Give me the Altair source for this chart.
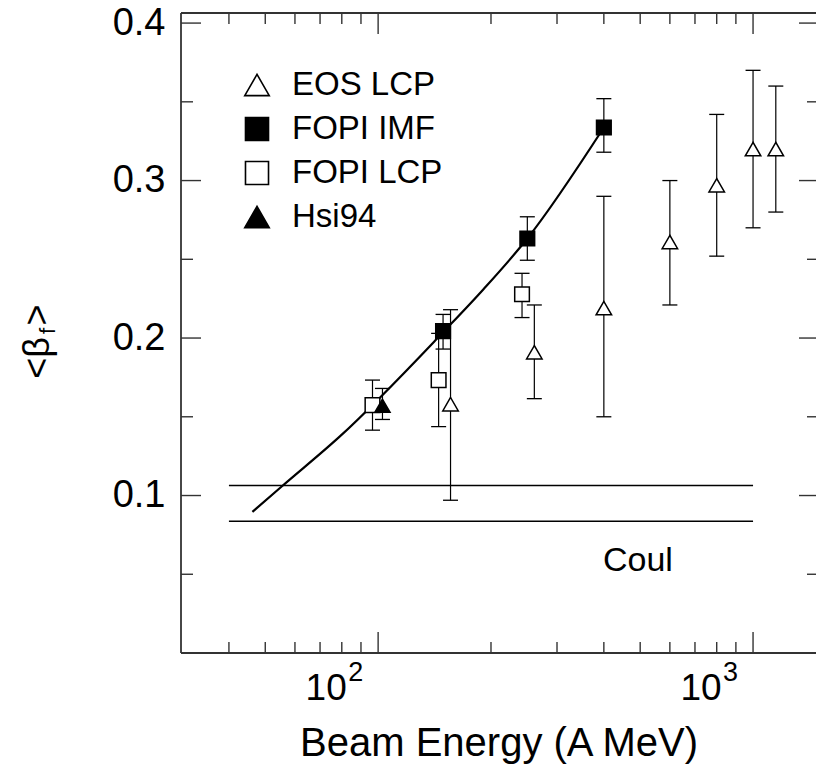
import altair as alt
import pandas as pd

# ---------------- data ----------------
# EOS LCP (open triangles)
EOS_E = [156, 261, 400, 600, 800, 1000, 1150]
EOS_B = [0.158, 0.191, 0.219, 0.261, 0.297, 0.320, 0.320]
EOS_LO = [0.097, 0.1615, 0.150, 0.221, 0.252, 0.270, 0.280]
EOS_HI = [0.218, 0.221, 0.290, 0.300, 0.342, 0.370, 0.360]
# FOPI IMF (filled squares)
IMF_E = [149, 250, 400]
IMF_B = [0.2044, 0.2632, 0.3337]
IMF_LO = [0.193, 0.2494, 0.318]
IMF_HI = [0.215, 0.277, 0.352]
# FOPI LCP (open squares)
LCP_E = [96.6, 145, 242]
LCP_B = [0.1574, 0.1733, 0.2278]
LCP_LO = [0.1415, 0.1437, 0.213]
LCP_HI = [0.1733, 0.203, 0.2411]
# Hsi94 (filled triangle)
HSI_E = [102.7]
HSI_B = [0.157]
HSI_LO = [0.1483]
HSI_HI = [0.168]
# fitted curve
FIT_E = [46.2, 55.4, 79.2, 150, 191, 250, 400]
FIT_B = [0.0896, 0.1059, 0.1377, 0.2044, 0.231, 0.2632, 0.3337]
# Coulomb band lines
COUL_E0 = [40, 40]
COUL_E1 = [1000, 1000]
COUL_B = [0.1064, 0.0837]
COUL_TEXT = ["Coul"]
COUL_TX = [493]
COUL_TY = [0.052]

LEG_NAMES = ["EOS LCP", "FOPI IMF", "FOPI LCP", "Hsi94"]
LEG_SHAPES = ["triangle-up", "square", "square", "triangle-up"]
LEG_FILLED = [False, True, False, True]

X_MAJOR = [100, 1000]
X_LABEL_BASE = ["10", "10"]
X_LABEL_EXP = ["2", "3"]
X_MINOR = [40, 50, 60, 70, 80, 90, 200, 300, 400, 500, 600, 700, 800, 900]
Y_MAJOR = [0.1, 0.2, 0.3, 0.4]
Y_MINOR = [0.05, 0.15, 0.25, 0.35]
XDOM = [29.8, 1472]
YDOM = [0, 0.4064]

# ---------------- layout / style ----------------
W, H = 635, 640
FONT = "Liberation Sans"
INK = "black"
FRAME = "#333333"

xs = alt.Scale(type="log", domain=XDOM, nice=False)
ys = alt.Scale(domain=YDOM, nice=False, zero=False)

x_axis = alt.Axis(
    values=X_MAJOR, labels=False,
    ticks=False, domain=False, grid=False,
    title="Beam Energy (A MeV)", titleFont=FONT, titleFontSize=40,
    titleFontWeight="normal", titleColor=INK, titleY=102,
    titleBaseline="alphabetic",
)
y_axis = alt.Axis(
    values=Y_MAJOR, format=".1f",
    ticks=False, domain=False, grid=False,
    labelFont=FONT, labelFontSize=38, labelColor=INK, labelPadding=16,
    title=None,
)


def X(field="E"):
    return alt.X(f"{field}:Q", scale=xs, axis=x_axis, title="Beam Energy (A MeV)")


def Y(field="b"):
    return alt.Y(f"{field}:Q", scale=ys, axis=y_axis, title=None)


def series_df(E, B, LO, HI):
    return pd.DataFrame({"E": E, "b": B, "lo": LO, "hi": HI})


eos = series_df(EOS_E, EOS_B, EOS_LO, EOS_HI)
imf = series_df(IMF_E, IMF_B, IMF_LO, IMF_HI)
lcp = series_df(LCP_E, LCP_B, LCP_LO, LCP_HI)
hsi = series_df(HSI_E, HSI_B, HSI_LO, HSI_HI)
allpts = pd.concat([eos, imf, lcp, hsi], ignore_index=True)

layers = []

# fitted curve (first layer, carries the axes)
fit = pd.DataFrame({"E": FIT_E, "b": FIT_B})
layers.append(
    alt.Chart(fit).mark_line(color=INK, strokeWidth=2.2, interpolate="monotone").encode(
        x=X("E"), y=Y("b")
    )
)

# Coulomb lines
coul = pd.DataFrame({"E0": COUL_E0, "E1": COUL_E1, "b": COUL_B})
layers.append(
    alt.Chart(coul).mark_rule(color=INK, strokeWidth=1.4).encode(
        x=X("E0"), x2="E1", y=Y("b")
    )
)

# error bars
layers.append(
    alt.Chart(allpts).mark_rule(color=INK, strokeWidth=1.2).encode(
        x=X("E"), y=Y("lo"), y2="hi"
    )
)
for f in ["lo", "hi"]:
    layers.append(
        alt.Chart(allpts).mark_tick(
            orient="horizontal", size=15, thickness=1.3, color=INK, opacity=1
        ).encode(x=X("E"), y=Y(f))
    )


def markers(df, shape, filled, size):
    return alt.Chart(df).mark_point(
        shape=shape, size=size, filled=True,
        fill=INK if filled else "white", stroke=INK, strokeWidth=1.5, opacity=1
    ).encode(x=X("E"), y=Y("b"))


layers.append(markers(eos, "triangle-up", False, 240))
layers.append(markers(lcp, "square", False, 215))
layers.append(markers(imf, "square", True, 215))
layers.append(markers(hsi, "triangle-up", True, 230))

# Coul label
ctext = pd.DataFrame({"E": COUL_TX, "b": COUL_TY, "t": COUL_TEXT})
layers.append(
    alt.Chart(ctext).mark_text(
        font=FONT, fontSize=34, color=INK, align="center", baseline="alphabetic"
    ).encode(x=X("E"), y=Y("b"), text="t:N")
)

# x tick labels 10^2, 10^3 (base + superscript), placed through the x scale
xl = pd.DataFrame({"E": X_MAJOR, "base": X_LABEL_BASE, "exp": X_LABEL_EXP})
layers.append(alt.Chart(xl).mark_text(
    font=FONT, fontSize=37, color=INK, align="center", baseline="alphabetic", dx=-52
).encode(x=X("E"), y=alt.value(H + 47), text="base:N"))
layers.append(alt.Chart(xl).mark_text(
    font=FONT, fontSize=27, color=INK, align="left", baseline="alphabetic", dx=-30
).encode(x=X("E"), y=alt.value(H + 28), text="exp:N"))

# inward ticks on all four sides
xmaj = pd.DataFrame({"E": X_MAJOR})
xmin = pd.DataFrame({"E": X_MINOR})
ymaj = pd.DataFrame({"b": Y_MAJOR})
ymin = pd.DataFrame({"b": Y_MINOR})
TK = dict(color=FRAME, strokeWidth=1.4)
for df, ln in [(xmaj, 21), (xmin, 11)]:
    layers.append(alt.Chart(df).mark_rule(**TK).encode(
        x=X("E"), y=alt.value(H), y2=alt.value(H - ln)))
    layers.append(alt.Chart(df).mark_rule(**TK).encode(
        x=X("E"), y=alt.value(0), y2=alt.value(ln)))
for df, ln, rl in [(ymaj, 20, 17), (ymin, 12, 9)]:
    layers.append(alt.Chart(df).mark_rule(**TK).encode(
        y=Y("b"), x=alt.value(0), x2=alt.value(ln)))
    layers.append(alt.Chart(df).mark_rule(**TK).encode(
        y=Y("b"), x=alt.value(W), x2=alt.value(W - rl)))

# frame: left, top, bottom (right edge lies outside the picture)
one = pd.DataFrame({"k": [0]})
FR = dict(color=FRAME, strokeWidth=1.8)
layers.append(alt.Chart(one).mark_rule(**FR).encode(
    x=alt.value(0), y=alt.value(0), y2=alt.value(H)))
layers.append(alt.Chart(one).mark_rule(**FR).encode(
    x=alt.value(0), x2=alt.value(W + 5), y=alt.value(0)))
layers.append(alt.Chart(one).mark_rule(**FR).encode(
    x=alt.value(0), x2=alt.value(W + 5), y=alt.value(H)))

# legend
LEG_Y0, LEG_DY = 71, 44
for i, name in enumerate(LEG_NAMES):
    d = pd.DataFrame({"t": [name]})
    yy = LEG_Y0 + LEG_DY * i
    layers.append(alt.Chart(d).mark_point(
        shape=LEG_SHAPES[i], size=600 if "triangle" in LEG_SHAPES[i] else 530,
        filled=True, fill=INK if LEG_FILLED[i] else "white",
        stroke=INK, strokeWidth=1.6, opacity=1
    ).encode(x=alt.value(76), y=alt.value(yy + 1)))
    layers.append(alt.Chart(d).mark_text(
        font=FONT, fontSize=33, color=INK, align="left", baseline="middle"
    ).encode(x=alt.value(111), y=alt.value(yy + 1), text="t:N"))

# y-axis title  <β_f>  (rotated)
ytitle = [("<β", 36, -143, 345), ("f", 22, -133, 318), (">", 36, -143, 302)]
for txt, fs, xx, yy in ytitle:
    d = pd.DataFrame({"t": [txt]})
    layers.append(alt.Chart(d).mark_text(
        font=FONT, fontSize=fs, color=INK, angle=270,
        align="center", baseline="middle"
    ).encode(x=alt.value(xx), y=alt.value(yy), text="t:N"))

chart = alt.layer(*layers).properties(
    width=W, height=H,
    autosize=alt.AutoSizeParams(type="none"),
    padding={"left": 181, "top": 13, "right": 0, "bottom": 115},
    background="white",
).configure_view(stroke=None)

chart.save("out.html", embed_options={"renderer": "svg", "actions": False})
